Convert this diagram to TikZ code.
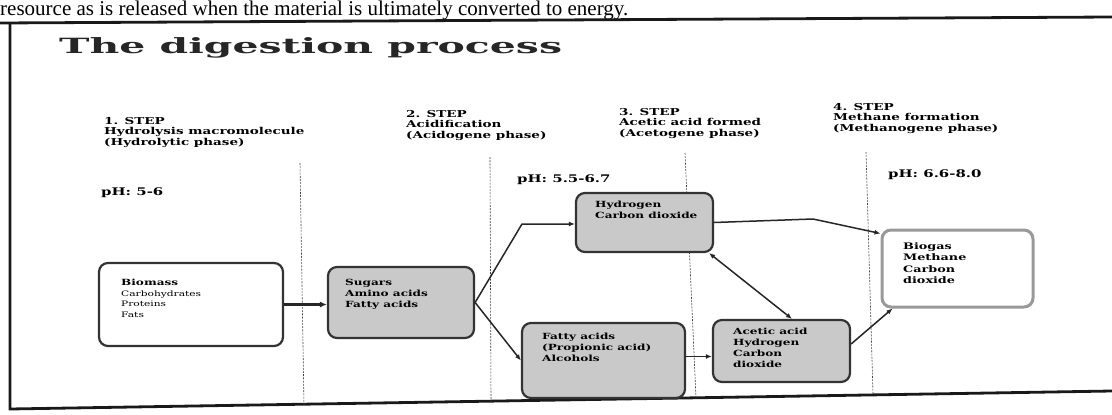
\documentclass[tikz,border=0pt]{standalone}
\usepackage{fontspec}
\setmainfont{DejaVu Serif}
\newfontfamily\ttlfont[FakeStretch=1.95]{DejaVu Serif}
\newfontfamily\widefont[FakeStretch=1.42]{DejaVu Serif}
\newfontfamily\pagefont{Liberation Serif}
\usetikzlibrary{arrows.meta}
\begin{document}
\begin{tikzpicture}[x=1pt,y=-1pt,
  procbox/.style={draw=black!80, line width=2.2pt, rounded corners=9pt, inner sep=0pt},
  graybox/.style={procbox, fill=black!21},
  whitebox/.style={procbox, fill=white},
  gasbox/.style={procbox, draw=black!40, line width=3pt, fill=white},
  hdr/.style={anchor=north west, align=left, inner sep=0pt, font=\widefont\bfseries\fontsize{9.5}{10.5}\selectfont},
  btxt/.style={anchor=north west, align=left, inner sep=0pt, font=\widefont\bfseries\fontsize{8.5}{10.8}\selectfont},
  rtxt/.style={anchor=north west, align=left, inner sep=0pt, font=\widefont\fontsize{7.5}{10.5}\selectfont},
  phlbl/.style={anchor=north west, inner sep=0pt, font=\widefont\bfseries\fontsize{10.5}{11}\selectfont},
  conn/.style={line width=1.5pt, draw=black!85, -{Latex[length=6pt,width=5pt]}},
  sepline/.style={line width=0.6pt, draw=black!75, dash pattern=on 2pt off 1.2pt},
  frameline/.style={line width=2.8pt, draw=black!90}
]
\useasboundingbox (0,0) rectangle (1112,415);
\node[anchor=base west, inner sep=0pt, font=\pagefont\fontsize{21}{21}\selectfont] (toptext) at (0,16) {resource as is released when the material is ultimately converted to energy.};

% frame
\coordinate (ftl) at (10,23);
\coordinate (ftr) at (1112,17);
\coordinate (fbl) at (10,409);
\coordinate (fbr) at (1112,391);
\draw[frameline] (0,23) -- (ftr);
\draw[frameline] (ftl) -- (fbl) -- (fbr);

% title
\node[anchor=base west, inner sep=0pt, font=\ttlfont\bfseries\fontsize{21}{21}\selectfont, text=black!85] (title) at (59,53) {The digestion process};

% separators
\coordinate (l1a) at (300,163); \coordinate (l1b) at (304,406);
\coordinate (l2a) at (490,157); \coordinate (l2b) at (491,402);
\coordinate (l3a) at (685,153); \coordinate (l3b) at (696,398);
\coordinate (l4a) at (866,152); \coordinate (l4b) at (873,394);
\draw[sepline] (l1a) -- (l1b);
\draw[sepline] (l2a) -- (l2b);
\draw[sepline] (l3a) -- (l3b);
\draw[sepline] (l4a) -- (l4b);

% step headers
\node[hdr] (s1) at (104,117) {1. STEP\\Hydrolysis macromolecule\\(Hydrolytic phase)};
\node[hdr] (s2) at (406,110) {2. STEP\\Acidification\\(Acidogene phase)};
\node[hdr] (s3) at (619,108) {3. STEP\\Acetic acid formed\\(Acetogene phase)};
\node[hdr] (s4) at (833,103) {4. STEP\\Methane formation\\(Methanogene phase)};

% pH
\node[phlbl] (p1) at (101,188) {pH: 5-6};
\node[phlbl] (p2) at (517,175) {pH: 5.5-6.7};
\node[phlbl] (p3) at (888,170) {pH: 6.6-8.0};

% boxes
\node[whitebox, minimum width=184pt, minimum height=83pt] (bio) at (191,304.5) {};
\node[graybox, minimum width=146pt, minimum height=71pt] (sug) at (401,302.5) {};
\node[graybox, minimum width=137pt, minimum height=59pt] (hyd) at (644.5,222.5) {};
\node[graybox, minimum width=163pt, minimum height=75pt] (fat) at (603.5,360.5) {};
\node[graybox, minimum width=137pt, minimum height=62pt] (ace) at (781.5,351) {};
\node[gasbox, minimum width=151pt, minimum height=77pt] (gas) at (957.5,268.5) {};

% box texts
\node[rtxt] (biot) at (121,279) {{\bfseries\fontsize{8.5}{10.5}\selectfont Biomass}\\Carbohydrates\\Proteins\\Fats};
\node[btxt] (sugt) at (345,279) {Sugars\\Amino acids\\Fatty acids};
\node[btxt] (hydt) at (595,201) {Hydrogen\\Carbon dioxide};
\node[btxt] (fatt) at (542,333) {Fatty acids\\(Propionic acid)\\Alcohols};
\node[btxt] (acet) at (733,328) {Acetic acid\\Hydrogen\\Carbon\\dioxide};
\node[btxt, font=\widefont\bfseries\fontsize{9}{11.5}\selectfont] (gast) at (903,242) {Biogas\\Methane\\Carbon\\dioxide};

% connectors
\coordinate (k1) at (522,224);
\coordinate (k2) at (813,219);
\draw[conn, line width=2.8pt, -{Latex[length=7pt,width=6pt]}] (bio.east) -- (bio.east -| sug.west);
\draw[conn] (sug.east) -- (k1) -- (k1 -| hyd.west);
\draw[conn] (sug.east) -- (fat.west);
\draw[conn] ([yshift=4pt]fat.east) -- ([yshift=4pt]fat.east -| ace.west);
\draw[conn, {Latex[length=6pt,width=5pt]}-{Latex[length=6pt,width=5pt]}] ([xshift=10.5pt]ace.north) -- ([xshift=-5pt]hyd.south east);
\draw[conn] (hyd.east) -- (k2) -- ([yshift=-5pt]gas.north west);
\draw[conn] ([yshift=7pt]ace.east) -- ([xshift=12pt]gas.south west);
\end{tikzpicture}
\end{document}
